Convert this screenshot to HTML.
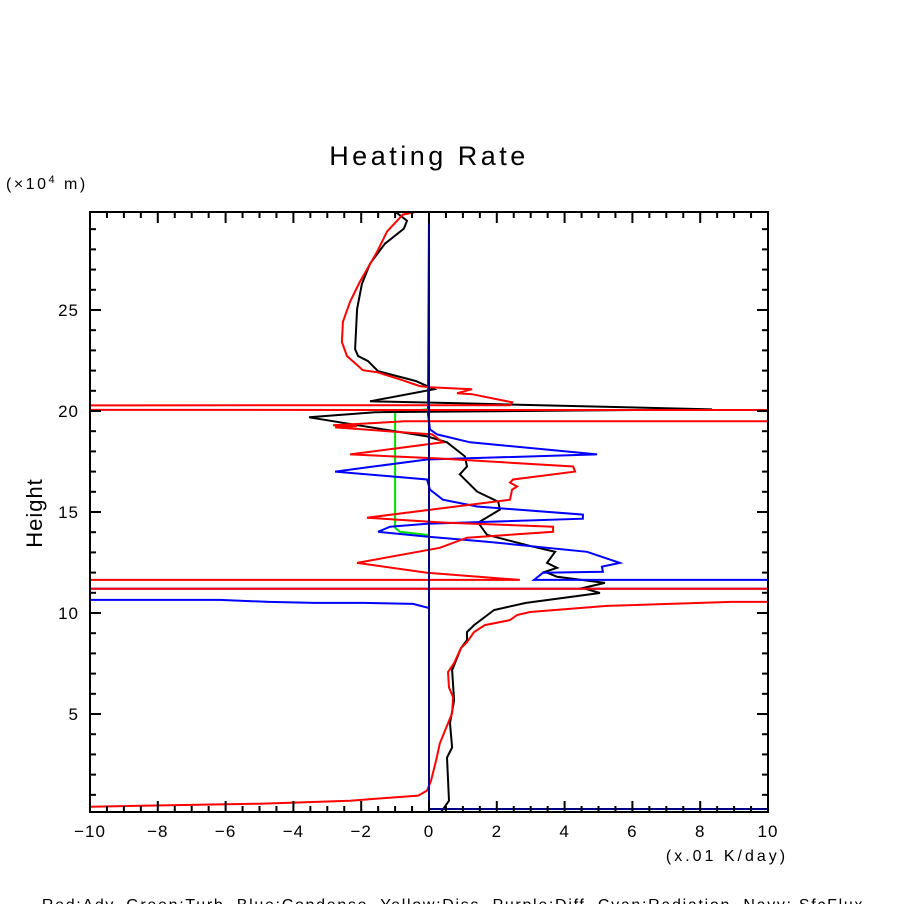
<!DOCTYPE html>
<html><head><meta charset="utf-8"><style>
html,body{margin:0;padding:0;background:#fff;}
svg{display:block;font-family:"Liberation Sans",sans-serif;}
</style></head><body>
<svg id="chart" width="904" height="904" viewBox="0 0 904 904" xmlns="http://www.w3.org/2000/svg">
<rect x="0" y="0" width="904" height="904" fill="#fff"/>
<text x="429" y="165" text-anchor="middle" font-size="27" letter-spacing="3.5" fill="#000">Heating Rate</text>
<text x="6" y="189" font-size="16" letter-spacing="2.5" fill="#000">(×10<tspan font-size="11" dy="-6">4</tspan><tspan dy="6"> m)</tspan></text>
<text x="42" y="513" font-size="22" letter-spacing="1" fill="#000" text-anchor="middle" transform="rotate(-90 42 513)">Height</text>
<text x="727" y="861" font-size="16" letter-spacing="3" text-anchor="middle" fill="#000">(x.01 K/day)</text>
<text x="453" y="910" font-size="16" letter-spacing="1.7" text-anchor="middle" fill="#000">Red:Adv.  Green:Turb.  Blue:Condense.  Yellow:Diss.  Purple:Diff.  Cyan:Radiation.  Navy: SfcFlux</text>
<defs><clipPath id="plotclip"><rect x="90" y="212" width="678" height="600"/></clipPath></defs>
<g id="series" clip-path="url(#plotclip)"></g>
<g id="axes"></g>
</svg>
<script>
const xTicks = [-10,-8,-6,-4,-2,0,2,4,6,8,10];
const yTicks = [5,10,15,20,25];
const xDomain = [-10,10];
const yDomain = [0.15,29.85];
const advX = [-0.35,-0.77,-1.24,-1.53,-2.04,-2.33,-2.54,-2.57,-2.42,-1.95,-1.53,-0.86,-0.27,0.03,1.27,0.83,1.27,2.45,2.39,-1000,1000,1000,-0.71,-2.83,-2.12,-2.77,0.09,0.18,0.41,-2.33,0.32,4.25,4.31,2.48,2.39,2.6,2.45,2.39,-1.83,0.03,0.53,3.66,3.66,1.12,0.32,-2.12,-0.06,2.68,-1000,0.05,1000,1000,8.91,5.25,2.98,2.6,2.39,1.65,1.33,1.12,0.94,0.74,0.56,0.59,0.71,0.68,0.5,0.32,0.21,0.06,-0.06,-0.32,-2.33,-4.99,-10.0,-1000];
const advH = [29.87,29.72,28.88,27.88,26.39,25.4,24.41,23.41,22.72,22.02,21.92,21.57,21.23,21.18,21.08,20.88,20.83,20.43,20.28,20.2,19.9,19.55,19.49,19.29,19.24,19.19,18.84,18.74,18.45,17.85,17.65,17.25,17.0,16.61,16.46,16.26,16.11,15.61,14.72,14.52,14.47,14.27,14.02,13.73,13.23,12.48,11.99,11.64,11.6,11.2,11.2,10.62,10.55,10.35,10.05,9.9,9.65,9.4,9.06,8.56,8.26,7.52,7.07,6.32,5.83,5.03,4.29,3.54,2.7,1.7,1.21,0.96,0.71,0.56,0.41,0.2];
const turbX = [0,-0.06,-1.0,-1.0,-0.86,-0.06,0];
const turbH = [20.2,20.08,19.94,14.22,14.02,13.87,13.8];
const condX = [0,-0.03,0.03,0.24,1.21,4.96,-0.06,-2.77,-0.06,0.03,0.41,1.42,4.54,4.54,-0.06,-1.15,-1.5,-0.06,1.71,4.66,5.63,5.1,5.13,3.36,3.1,1000,1000,-1000,-1000,-6.17,-4.72,-3.39,-1.92,-0.47,0.0,0];
const condH = [29.85,19.84,19.09,18.84,18.45,17.85,17.6,17.0,16.61,16.11,15.61,15.27,14.87,14.67,14.42,14.27,14.02,13.78,13.53,13.03,12.48,12.29,12.04,11.99,11.64,11.62,11.2,11.2,10.65,10.65,10.55,10.5,10.5,10.45,10.25,0.15];
const totX = [-1.0,-0.65,-0.74,-1.3,-1.74,-1.98,-2.12,-2.18,-2.09,-1.8,-1.5,-0.38,0.15,-1.74,0.91,8.35,-1.59,-3.54,-0.06,0.53,1.06,1.12,0.91,1.42,2.04,2.09,1.45,1.71,3.07,3.72,3.48,3.78,3.42,3.78,5.19,4.54,5.04,2.86,1.92,1.33,1.12,1.12,0.94,0.68,0.74,0.62,0.68,0.53,0.59,0.32];
const totH = [29.87,29.42,29.03,28.28,27.29,26.29,25.05,23.06,22.72,22.47,21.97,21.48,21.08,20.48,20.38,20.08,19.94,19.69,18.74,18.45,17.75,17.25,16.86,16.01,15.51,15.12,14.47,13.87,13.28,13.03,12.48,12.24,12.04,11.79,11.49,11.24,10.99,10.5,10.15,9.4,9.06,8.66,8.26,7.17,5.68,4.54,3.34,2.85,0.71,0.06];
const sfcX = [0,0,1000];
const sfcH = [29.85,0.3,0.3];

const X0=90,X1=768,Y0=812,Y1=212;
function sx(v){return X0+(v-xDomain[0])/(xDomain[1]-xDomain[0])*(X1-X0);}
function sy(v){return Y0-(v-yDomain[0])/(yDomain[1]-yDomain[0])*(Y0-Y1);}
const NS='http://www.w3.org/2000/svg';
const gS=document.getElementById('series');
const gA=document.getElementById('axes');
function line(xs,hs,color,name){
  const p=document.createElementNS(NS,'polyline');
  p.setAttribute('points',xs.map((x,i)=>sx(x).toFixed(1)+','+sy(hs[i]).toFixed(1)).join(' '));
  p.setAttribute('fill','none');p.setAttribute('stroke',color);p.setAttribute('stroke-width','2');
  
  
  gS.appendChild(p);
}
line(turbX,turbH,'#00e000','turb-line');
line(totX,totH,'#000000','total-line');
line(condX,condH,'#0000ff','condense-line');
line(advX,advH,'#ff0000','adv-line');
line(sfcX,sfcH,'#000080','sfcflux-line');

function seg(x1,y1,x2,y2,name){
  const l=document.createElementNS(NS,'line');
  l.setAttribute('x1',x1);l.setAttribute('y1',y1);l.setAttribute('x2',x2);l.setAttribute('y2',y2);
  l.setAttribute('stroke','#000');l.setAttribute('stroke-width','2');
  
  
  gA.appendChild(l);
}
const box=document.createElementNS(NS,'rect');
box.setAttribute('x',X0);box.setAttribute('y',Y1);box.setAttribute('width',X1-X0);box.setAttribute('height',Y0-Y1);
box.setAttribute('fill','none');box.setAttribute('stroke','#000');box.setAttribute('stroke-width','2');


gA.appendChild(box);
for(let v=-10;v<=10.001;v+=0.5){
  const major=Math.abs(v/2-Math.round(v/2))<1e-6;
  const L=major?11:6, x=sx(v);
  seg(x,Y0,x,Y0-L,'x-tick');seg(x,Y1,x,Y1+L,'x-tick-top');
}
for(let v=1;v<=29;v++){
  const major=v%5===0, L=major?11:6, y=sy(v);
  seg(X0,y,X0+L,y,'y-tick');seg(X1,y,X1-L,y,'y-tick-right');
}
xTicks.forEach(v=>{
  const t=document.createElementNS(NS,'text');
  t.setAttribute('x',sx(v));t.setAttribute('y',837);t.setAttribute('text-anchor','middle');
  t.setAttribute('font-size','17');t.setAttribute('letter-spacing','1');
  t.textContent=(v<0?'\u2212'+(-v):String(v));
  
  
  gA.appendChild(t);
});
yTicks.forEach(v=>{
  const t=document.createElementNS(NS,'text');
  t.setAttribute('x',79);t.setAttribute('y',sy(v)+6);t.setAttribute('text-anchor','end');
  t.setAttribute('font-size','17');t.setAttribute('letter-spacing','1');
  t.textContent=String(v);
  
  
  gA.appendChild(t);
});
</script>
</body></html>
